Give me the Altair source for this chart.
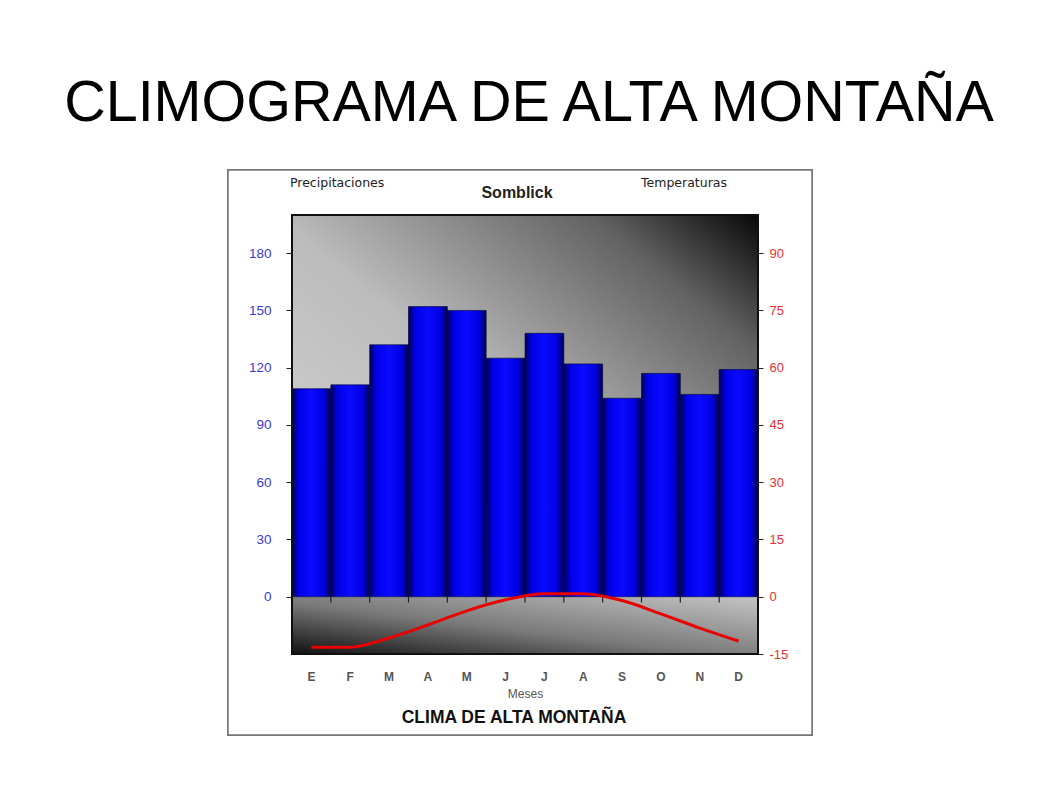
import altair as alt
import pandas as pd

meses = ["E", "F", "M", "A", "M ", "J", "J ", "A ", "S", "O", "N", "D"]
precipitaciones = [109, 111, 132, 152, 150, 125, 138, 122, 104, 117, 106, 119]
temperaturas = [-13.2, -13.2, -10.8, -7.4, -3.7, -0.8, 0.8, 0.8, -1.0, -4.5, -8.2, -11.6]

df = pd.DataFrame({"mes": meses, "prec": precipitaciones, "temp": temperaturas})

W, H = 466, 439
P_DOM = [-30, 200]
T_DOM = [-15, 100]

xenc = alt.X("mes:N", sort=meses, title="Meses",
             scale=alt.Scale(paddingInner=0.0, paddingOuter=0.0),
             axis=alt.Axis(ticks=False, domain=False, labelPadding=17, labelFontSize=12,
                           labelAngle=0, labelFontWeight="bold", labelColor="#555555",
                           labelFont="Liberation Sans", labelExpr="trim(datum.label)",
                           titleFontSize=12, titleFontWeight="normal",
                           titleColor="#555555", titlePadding=6, titleFont="Liberation Sans",
                           zindex=2))

base = alt.Chart(df)

# outer white frame of embedded image
frame = base.mark_rect(fill="white", stroke="#777777", strokeWidth=1.5).encode(
    x=alt.value(-64), x2=alt.value(520), y=alt.value(-45), y2=alt.value(520)
)

upper_grad = alt.LinearGradient(
    gradient="linear", x1=0, y1=1, x2=1, y2=0,
    stops=[alt.GradientStop(color="#d8d8d8", offset=0),
           alt.GradientStop(color="#bcbcbc", offset=0.48),
           alt.GradientStop(color="#626262", offset=0.82),
           alt.GradientStop(color="#080808", offset=1)])
lower_grad = alt.LinearGradient(
    gradient="linear", x1=0, y1=1, x2=1, y2=0,
    stops=[alt.GradientStop(color="#111111", offset=0),
           alt.GradientStop(color="#7a7a7a", offset=0.45),
           alt.GradientStop(color="#c4c4c4", offset=1)])

bg_df = pd.DataFrame({"y0": [0], "y1": [200], "z0": [-30], "z1": [0]})
upper = alt.Chart(bg_df).mark_rect(fill=upper_grad).encode(
    x=alt.value(0), x2=alt.value(W),
    y=alt.Y("y0:Q", scale=alt.Scale(domain=P_DOM, nice=False, zero=False), axis=None),
    y2="y1:Q")
lower = alt.Chart(bg_df).mark_rect(fill=lower_grad).encode(
    x=alt.value(0), x2=alt.value(W),
    y=alt.Y("z0:Q", scale=alt.Scale(domain=P_DOM, nice=False, zero=False), axis=None),
    y2="z1:Q")

bar_grad = alt.LinearGradient(
    gradient="linear", x1=0, y1=0, x2=1, y2=0,
    stops=[alt.GradientStop(color="#000060", offset=0),
           alt.GradientStop(color="#0000e8", offset=0.18),
           alt.GradientStop(color="#0a0aff", offset=0.5),
           alt.GradientStop(color="#0000e0", offset=0.82),
           alt.GradientStop(color="#000050", offset=1)])

bars = base.mark_bar(fill=bar_grad, stroke="#000030", strokeWidth=0.6).encode(
    x=xenc,
    y=alt.Y("prec:Q", scale=alt.Scale(domain=P_DOM, nice=False, zero=False),
            axis=alt.Axis(orient="left", values=[0, 30, 60, 90, 120, 150, 180], title=None,
                          grid=False, domain=False, tickColor="#222222", tickSize=6,
                          labelColor="#3a3ad0", labelFontSize=13.5, labelPadding=15,
                          labelFont="Liberation Sans", zindex=2)),
    y2=alt.datum(0),
)

# small category ticks on the zero line
cat_ticks = base.mark_rule(color="#222222", strokeWidth=1.2).encode(
    x=alt.X("mes:N", sort=meses, bandPosition=0),
    y=alt.Y("zt:Q", scale=alt.Scale(domain=P_DOM, nice=False, zero=False), axis=None),
    y2=alt.datum(-3),
).transform_calculate(zt="0")

line = base.mark_line(color="#e80000", strokeWidth=3, interpolate="monotone").encode(
    x=alt.X("mes:N", sort=meses),
    y=alt.Y("temp:Q", scale=alt.Scale(domain=T_DOM, nice=False, zero=False),
            axis=alt.Axis(orient="right", values=[-15, 0, 15, 30, 45, 60, 75, 90], title=None,
                          grid=False, domain=False, tickColor="#222222", tickSize=5,
                          labelColor="#e83030", labelFontSize=13, labelPadding=6,
                          labelFont="Liberation Sans", labelExpr="replace(datum.label, '−', '-')",
                          zindex=2)),
)

border = base.mark_rect(fill=None, stroke="#111111", strokeWidth=1.2).encode(
    x=alt.value(0), x2=alt.value(W), y=alt.value(0), y2=alt.value(H)
)

def txt(text, x, y, size, weight="normal", color="black", align="center",
        baseline="alphabetic", font="Liberation Sans"):
    return alt.Chart(pd.DataFrame({"t": [text]})).mark_text(
        fontSize=size, fontWeight=weight, color=color, align=align, baseline=baseline,
        font=font).encode(text="t:N", x=alt.value(x), y=alt.value(y))

title = txt("CLIMOGRAMA DE ALTA MONTAÑA", 237, -94, 57.5)
t_prec = txt("Precipitaciones", -2, -28, 12.5, align="left", color="#222222", font="DejaVu Sans")
t_son = txt("Somblick", 225, -17, 16, weight="bold", color="#222222")
t_temp = txt("Temperaturas", 349, -28, 12.5, align="left", color="#222222", font="DejaVu Sans")
t_clima = txt("CLIMA DE ALTA MONTAÑA", 222, 508, 17.5, weight="bold", color="#111111")

chart = alt.layer(
    frame, upper, lower, bars, cat_ticks, line, border,
    title, t_prec, t_son, t_temp, t_clima
).resolve_scale(y="independent").properties(
    width=W, height=H,
    autosize=alt.AutoSizeParams(type="none"),
    padding={"left": 284, "top": 207, "right": 292, "bottom": 131},
    background="white",
).configure_view(stroke=None)

chart.save("out.html", embed_options={"renderer": "svg", "actions": False})
